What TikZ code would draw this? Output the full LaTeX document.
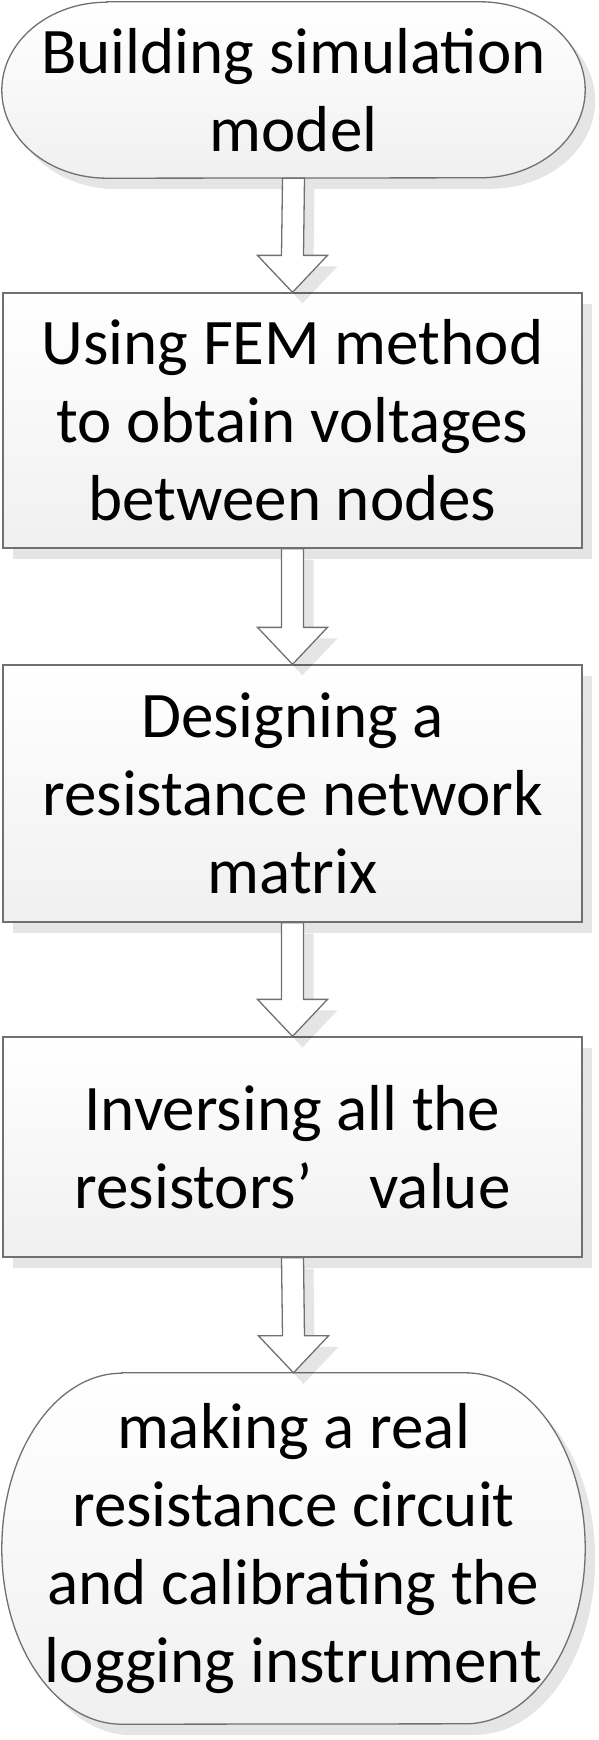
\documentclass[tikz,border=0pt]{standalone}
\usepackage{fontspec}
\setmainfont{Carlito}
\usetikzlibrary{calc,shadows}
\definecolor{edge}{HTML}{707070}
\definecolor{shade}{HTML}{F0F0F0}
\tikzset{
  x=1pt,y=1pt,
  softshadow/.style={drop shadow={shadow xshift=10pt,shadow yshift=-11pt,fill=black,opacity=0.1}},
  boxlook/.style={draw=edge,line width=1.3pt,top color=white,bottom color=shade,softshadow},
  stepbox/.style={boxlook,rectangle,inner sep=0pt,align=center,
    font=\fontsize{65pt}{78pt}\selectfont},
  termtext/.style={rectangle,inner sep=0pt,align=center,
    font=\fontsize{65pt}{78pt}\selectfont},
  blockarrow/.style={draw=edge,line width=1.3pt,fill=white,line join=miter,softshadow},
}
\newcommand\termshape[3]{% name, x radius, y radius
  \path[boxlook] ([xshift=#2]#1.north west) -- ([xshift=-#2]#1.north east)
    arc[start angle=90,end angle=-90,x radius=#2,y radius=#3]
    -- ([xshift=#2]#1.south west)
    arc[start angle=270,end angle=90,x radius=#2,y radius=#3] -- cycle;}
\newcommand\flowarrow[2]{%
  \path[blockarrow] ([xshift=-11pt]#1.south) -- ($(#2.north)+(-11,37)$)
    -- ($(#2.north)+(-35,37)$) -- (#2.north) -- ($(#2.north)+(35,37)$)
    -- ($(#2.north)+(11,37)$) -- ([xshift=11pt]#1.south) -- cycle;}
\begin{document}
\begin{tikzpicture}
\useasboundingbox (0,0) rectangle (598,-1740);
% terminal 1
\node[termtext,minimum width=583pt,minimum height=176pt] (t1) at (293.5,-90) {};
\termshape{t1}{105pt}{88pt}
\node[termtext] (t1text) at (t1.center) {Building simulation\\model};
% boxes
\node[stepbox,minimum width=579pt,minimum height=255pt] (b2) at (292.5,-420.5)
  {Using FEM method\\to obtain voltages\\between nodes};
\node[stepbox,minimum width=579pt,minimum height=257pt] (b3) at (292.5,-793.5)
  {Designing a\\resistance network\\matrix};
\node[stepbox,minimum width=579pt,minimum height=220pt] (b4) at (292.5,-1147)
  {Inversing all the\\resistors’\hspace{0.65em} value};
% terminal 5
\node[termtext,minimum width=583pt,minimum height=351pt] (t5) at (293.5,-1548.5) {};
\termshape{t5}{120pt}{175.5pt}
\node[termtext] (t5text) at (t5.center)
  {making a real\\resistance circuit\\and calibrating the\\logging instrument};
% arrows
\flowarrow{t1}{b2}
\flowarrow{b2}{b3}
\flowarrow{b3}{b4}
\flowarrow{b4}{t5}
\end{tikzpicture}
\end{document}
